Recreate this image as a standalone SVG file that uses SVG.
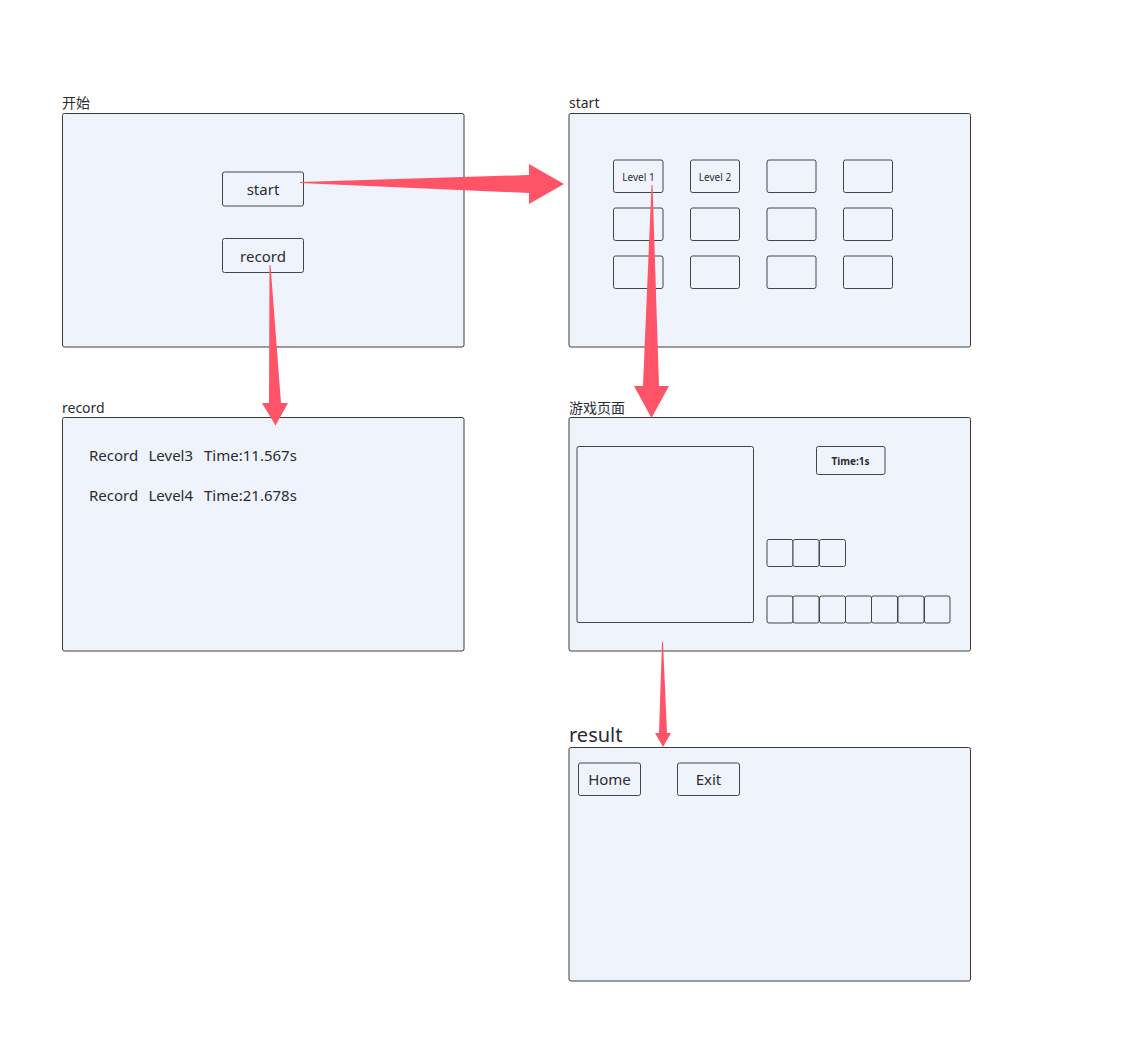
<svg xmlns="http://www.w3.org/2000/svg" width="1121" height="1053" viewBox="0 0 1121 1053">
<style>
text{font-family:"Noto Sans","Noto Sans CJK SC",sans-serif;fill:#2b2b33}
.frame{fill:#eff4fc;stroke:#3a3a3a;stroke-width:1}
.btn{fill:#eff4fc;stroke:#444;stroke-width:1}
.lbl{font-size:14px}
.bt{font-size:15px;text-anchor:middle}
.lv{font-size:10px;text-anchor:middle}
.arrow{fill:#ff5468}
</style>
<rect width="1121" height="1053" fill="#fff"/>
<g id="node-kaishi">
<text class="lbl" x="62" y="108">开始</text>
<rect class="frame" x="62.5" y="113.5" width="401.5" height="233.5" rx="2"/>
<g id="btn-start"><rect class="btn" x="222.5" y="172" width="81" height="34" rx="2"/><text class="bt" x="263" y="195">start</text></g>
<g id="btn-record"><rect class="btn" x="222.5" y="238.5" width="81" height="34" rx="2"/><text class="bt" x="263" y="262">record</text></g>
</g>
<g id="node-start">
<text class="lbl" x="569" y="108">start</text>
<rect class="frame" x="569" y="113.5" width="401.5" height="233.5" rx="2"/>
<g id="levels">
<rect class="btn" x="613.5" y="160" width="49.5" height="32.5" rx="2"/><text class="lv" x="638.5" y="181">Level 1</text>
<rect class="btn" x="690.5" y="160" width="49" height="32.5" rx="2"/><text class="lv" x="715" y="181">Level 2</text>
<rect class="btn" x="767" y="160" width="49" height="32.5" rx="2"/>
<rect class="btn" x="843.5" y="160" width="49" height="32.5" rx="2"/>
<rect class="btn" x="613.5" y="208" width="49.5" height="32.5" rx="2"/>
<rect class="btn" x="690.5" y="208" width="49" height="32.5" rx="2"/>
<rect class="btn" x="767" y="208" width="49" height="32.5" rx="2"/>
<rect class="btn" x="843.5" y="208" width="49" height="32.5" rx="2"/>
<rect class="btn" x="613.5" y="256" width="49.5" height="32.5" rx="2"/>
<rect class="btn" x="690.5" y="256" width="49" height="32.5" rx="2"/>
<rect class="btn" x="767" y="256" width="49" height="32.5" rx="2"/>
<rect class="btn" x="843.5" y="256" width="49" height="32.5" rx="2"/>
</g>
</g>
<g id="node-record">
<text class="lbl" x="62" y="413">record</text>
<rect class="frame" x="62.5" y="417.5" width="401.5" height="233.5" rx="2"/>
<text class="bt" style="text-anchor:start" x="89" y="461">Record</text>
<text class="bt" style="text-anchor:start" x="148.5" y="461">Level3</text>
<text class="bt" style="text-anchor:start" x="204" y="461">Time:11.567s</text>
<text class="bt" style="text-anchor:start" x="89" y="501">Record</text>
<text class="bt" style="text-anchor:start" x="148.5" y="501">Level4</text>
<text class="bt" style="text-anchor:start" x="204" y="501">Time:21.678s</text>
</g>
<g id="node-game">
<text class="lbl" x="569" y="413">游戏页面</text>
<rect class="frame" x="569" y="417.5" width="401.5" height="233.5" rx="2"/>
<rect class="btn" x="577" y="446.5" width="176.5" height="176" rx="2"/>
<g id="timer"><rect class="btn" x="816.5" y="446.5" width="68.5" height="28" rx="2"/><text class="lv" style="font-weight:bold" x="850.5" y="465">Time:1s</text></g>
<g id="slots-top">
<rect class="btn" x="767" y="539.5" width="26" height="27" rx="2"/>
<rect class="btn" x="793" y="539.5" width="26" height="27" rx="2"/>
<rect class="btn" x="819.5" y="539.5" width="26" height="27" rx="2"/>
</g>
<g id="slots-bottom">
<rect class="btn" x="767" y="596" width="26" height="27" rx="2"/>
<rect class="btn" x="793" y="596" width="26" height="27" rx="2"/>
<rect class="btn" x="819.5" y="596" width="26" height="27" rx="2"/>
<rect class="btn" x="845.5" y="596" width="26" height="27" rx="2"/>
<rect class="btn" x="871.5" y="596" width="26" height="27" rx="2"/>
<rect class="btn" x="898" y="596" width="26" height="27" rx="2"/>
<rect class="btn" x="924.5" y="596" width="25.5" height="27" rx="2"/>
</g>
</g>
<g id="node-result">
<text x="569" y="742" style="font-size:20px">result</text>
<rect class="frame" x="569" y="747.5" width="401.5" height="233.5" rx="2"/>
<g id="btn-home"><rect class="btn" x="578.5" y="763" width="62" height="32.5" rx="2"/><text class="bt" x="609.5" y="785">Home</text></g>
<g id="btn-exit"><rect class="btn" x="677.5" y="763" width="62" height="32.5" rx="2"/><text class="bt" x="708.5" y="785">Exit</text></g>
</g>
<g id="connectors">
<polygon class="arrow" points="300,182 529,175 529,164 564,184 529,204 529,193 300,183"/>
<polygon class="arrow" points="269.5,265 270.5,265 281,403 288,403 275.5,425.5 262,403 269,403"/>
<polygon class="arrow" points="651.5,185 652.5,185 659,386 669,386 651.5,418 634,386 643,386"/>
<polygon class="arrow" points="662,642 663,642 667,733 671,733 663,747 655,733 659,733"/>
</g>
</svg>
